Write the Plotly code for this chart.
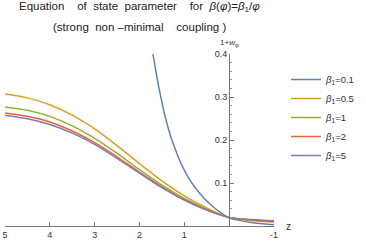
import plotly.graph_objects as go

# ---- data ----
z_common = [5, 4.5, 4, 3.5, 3, 2.5, 2, 1.5, 1, 0.5, 0, -0.5, -1]
w_b05 = [0.307, 0.298, 0.282, 0.258, 0.226, 0.187, 0.145, 0.105, 0.070, 0.042, 0.020, 0.013, 0.009]
w_b1 = [0.277, 0.269, 0.255, 0.233, 0.204, 0.169, 0.131, 0.095, 0.064, 0.039, 0.020, 0.014, 0.011]
w_b2 = [0.263, 0.255, 0.242, 0.221, 0.194, 0.161, 0.125, 0.091, 0.061, 0.037, 0.020, 0.014, 0.011]
w_b5 = [0.257, 0.2495, 0.236, 0.216, 0.190, 0.157, 0.123, 0.089, 0.060, 0.037, 0.020, 0.015, 0.012]

z_b01 = [1.70, 1.6, 1.5, 1.43, 1.3, 1.17, 1.09, 1.0, 0.87, 0.65, 0.43, 0.2, 0, -0.25, -0.5, -0.75, -1]
w_b01 = [0.40, 0.34, 0.288, 0.255, 0.207, 0.17, 0.149, 0.13, 0.106, 0.075, 0.051, 0.032, 0.019, 0.0125, 0.008, 0.005, 0.003]

labels = ["0.1", "0.5", "1", "2", "5"]
colors = ["#5E81B5", "#E19C24", "#8FB032", "#EB6235", "#8778B3"]

x_ticks = [5, 4, 3, 2, 1, -1]
y_ticks = [0.1, 0.2, 0.3, 0.4]

series = [(z_b01, w_b01), (z_common, w_b05), (z_common, w_b1), (z_common, w_b2), (z_common, w_b5)]

FONT = "Liberation Sans, Arial, sans-serif"
NB = "\u00a0"

fig = go.Figure()
for (zs, ws), lab, col in zip(series, labels, colors):
    fig.add_trace(go.Scatter(
        x=zs, y=ws, mode="lines",
        line=dict(color=col, width=1.5, shape="spline", smoothing=1.0),
        name="<i>β</i><sub>1</sub>=" + lab,
    ))

fig.update_layout(
    width=366, height=241,
    margin=dict(l=5, r=92, t=54, b=15),
    paper_bgcolor="white", plot_bgcolor="white",
    font=dict(family=FONT, size=9, color="#333"),
    showlegend=True,
    legend=dict(
        xref="container", yref="container",
        x=286 / 366, y=1 - 65 / 241, xanchor="left", yanchor="top",
        font=dict(size=9.5, color="#333"),
        bgcolor="rgba(0,0,0,0)", itemwidth=30, tracegroupgap=0,
    ),
    xaxis=dict(
        range=[5, -1], tickvals=x_ticks, ticktext=[str(v) for v in x_ticks],
        showgrid=False, zeroline=False, showline=True, linecolor="#777", linewidth=1,
        ticks="inside", ticklen=4, tickcolor="#777", anchor="y",
        tickfont=dict(size=9, color="#333"), automargin=False,
    ),
    yaxis=dict(
        range=[0, 0.4], tickvals=y_ticks, ticktext=["0.1", "0.2", "0.3", "0.4"],
        showgrid=False, zeroline=False, showline=True, linecolor="#777", linewidth=1,
        ticks="inside", ticklen=4, tickcolor="#777",
        anchor="free", position=5 / 6, side="left",
        minor=dict(dtick=0.02, ticks="inside", ticklen=2, tickcolor="#999", showgrid=False),
        tickfont=dict(size=9, color="#333"), automargin=False,
    ),
    annotations=[
        dict(text="Equation" + NB * 4 + "of" + NB * 2 + "state" + NB * 2 + "parameter" + NB * 4 + "for" + NB * 2
                  + "<i>β</i>(<i>φ</i>)=<i>β</i><sub>1</sub>/<i>φ</i>",
             xref="paper", yref="paper", x=0.5, y=1 + (54 - 7.5) / 172,
             xanchor="center", yanchor="middle", showarrow=False,
             font=dict(size=11.5, color="#222", family=FONT)),
        dict(text="(strong" + NB * 2 + "non" + NB + "–minimal" + NB * 4 + "coupling" + NB + ")",
             xref="paper", yref="paper", x=0.5, y=1 + (54 - 27) / 172,
             xanchor="center", yanchor="middle", showarrow=False,
             font=dict(size=11.5, color="#222", family=FONT)),
        dict(text="1+<i>w</i><sub>φ</sub>", xref="x", yref="paper", x=0, y=1,
             xanchor="center", yanchor="bottom", yshift=4, showarrow=False,
             font=dict(size=8, color="#333", family=FONT)),
        dict(text="z", xref="paper", yref="y", x=1, y=0, xanchor="left", yanchor="middle",
             xshift=10, showarrow=False, font=dict(size=10, color="#333", family=FONT)),
    ],
)

fig.write_html("out.html", config={"displayModeBar": False},
               post_script="document.body.style.margin='0';")
